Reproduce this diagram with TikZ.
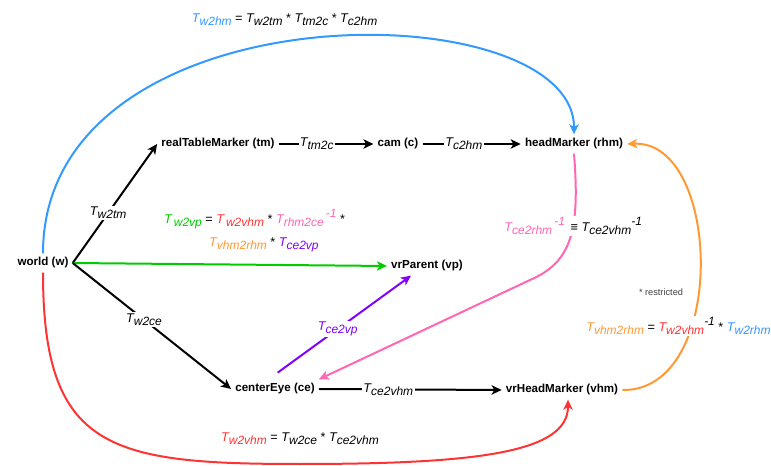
\documentclass[tikz,border=0pt]{standalone}
\usepackage{fontspec}
\setmainfont{Liberation Sans}
\usepackage{tikz}
\usetikzlibrary{arrows.meta}
\definecolor{tblue}{RGB}{51,153,255}
\definecolor{tred}{RGB}{255,51,51}
\definecolor{tgreen}{RGB}{0,204,0}
\definecolor{tpink}{RGB}{255,102,179}
\definecolor{torange}{RGB}{255,153,51}
\definecolor{tpurple}{RGB}{127,0,255}
\newcommand{\trf}[1]{\textit{T\raisebox{-0.45ex}{\fontsize{9}{10}\selectfont #1}}}
\newcommand{\inv}{\raisebox{0.9ex}{\textit{\fontsize{9}{10}\selectfont -1}}}

\begin{document}
\begin{tikzpicture}
    [
x=0.75pt,y=-0.75pt,
plainnode/.style={font=\bfseries\fontsize{8.7}{10}\selectfont, inner sep=3pt},
lbl/.style={font=\fontsize{9.5}{11}\selectfont, text=black, fill=white, inner sep=1pt},
arr/.style={-{Stealth[length=7.5pt,width=7pt,inset=2pt]}, line width=1.5pt}
]
\useasboundingbox (0,0) rectangle (771,466);
\node[plainnode](w) at (43,263){world (w)};
\node[plainnode](tm) at (218,144){realTableMarker (tm)};
\node[plainnode](c) at (398,144){cam (c)};
\node[plainnode](rhm) at (574,144){headMarker (rhm)};
\node[plainnode](vp) at (427,266){vrParent (vp)};
\node[plainnode](ce) at (275,389){centerEye (ce)};
\node[plainnode](vhm) at (562,390){vrHeadMarker (vhm)};
\node[font=\fontsize{6.9}{8}\selectfont, text=black!75](note) at (661,292){* restricted};

\draw[arr] (w.east) -- node[lbl,pos=0.42](lw2tm){\trf{w2tm}} (tm.west);
\draw[arr] (tm.east) -- node[lbl,pos=0.4](ltm2c){\trf{tm2c}} (c.west);
\draw[arr] (c.east) -- node[lbl,pos=0.42](lc2hm){\trf{c2hm}} (rhm.west);
\draw[arr,tgreen] (w.east) -- node[lbl,pos=0.6,xshift=-5pt,above=9pt,align=center,inner sep=0pt](lw2vp){{\color{tgreen}\trf{\,w2vp}} = {\color{tred}\trf{\,w2vhm}} * {\color{tpink}\trf{rhm2ce}\,\inv} *\\[6pt]\hspace*{14pt}{\color{torange}\trf{vhm2rhm}} * {\color{tpurple}\trf{ce2vp}}} (vp.west);
\draw[arr] (w.east) -- node[lbl,pos=0.45](lw2ce){\trf{w2ce}} (ce.west);
\draw[arr] (ce.east) -- node[lbl,pos=0.38](lce2vhm){\trf{ce2vhm}} (vhm.west);
\draw[arr,tpurple] ([xshift=2pt,yshift=5pt]ce.north) -- node[lbl,pos=0.45](lce2vp){\color{tpurple}\trf{ce2vp}} ([xshift=-12pt]vp.south);
\draw[arr,tpink] (rhm.south) .. controls (580,230) and (572,262) .. (530,280) node[lbl,pos=0.4](lce2rhm){{\color{tpink}\trf{ce2rhm}\,\inv} \,≡ \trf{ce2vhm}\inv} -- (ce.north east);
\draw[arr,torange] (vhm.east) .. controls (728,392) and (722,140) .. (rhm.east) node[lbl,pos=0.335,xshift=-10pt](lvhm2rhm){{\color{torange}\trf{vhm2rhm}} = {\color{tred}\trf{w2vhm}}\inv{} * {\color{tblue}\trf{w2rhm}}};
\draw[arr,tblue] (w.north) .. controls (43,-15) and (574,-10) .. (rhm.north) node[lbl,pos=0.47,above=11pt](lw2hm){{\color{tblue}\trf{w2hm}} = \trf{w2tm} * \trf{tm2c} * \trf{c2hm}};
\draw[arr,tred] (w.south) .. controls (43,450) and (110,464) .. (300,464) node[lbl,pos=1,yshift=19pt](lw2vhm){{\color{tred}\trf{w2vhm}} = \trf{w2ce} * \trf{ce2vhm}} .. controls (480,464) and (568,452) .. ([xshift=4.5pt]vhm.south);
\end{tikzpicture}
\end{document}
